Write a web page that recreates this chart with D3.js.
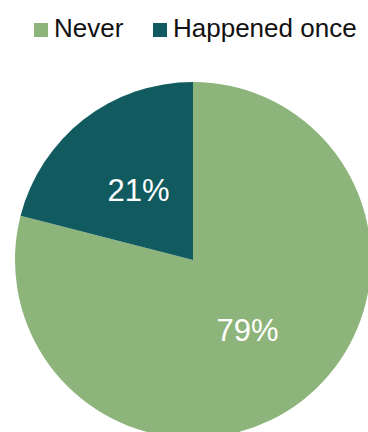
<!DOCTYPE html>
<html>
<head>
<meta charset="utf-8">
<script src="https://cdn.jsdelivr.net/npm/d3@7"></script>
<style>
  body { margin: 0; background: #fff; }
  svg { display: block; font-family: "Liberation Sans", Arial, sans-serif; }
</style>
</head>
<body>
<div id="container"></div>
<script>
var WIDTH = 368,
    HEIGHT = 432;

var categories = ['Never', 'Happened once'],
    values = [79, 21],
    colors = ['#8db47b', '#115b60'];

var svg = d3.select('#container').append('svg')
    .attr('width', WIDTH)
    .attr('height', HEIGHT);

var cx = 193, cy = 260, radius = 178;

var color = d3.scaleOrdinal().domain(categories).range(colors);

var pie = d3.pie().sort(null).value(function(d) { return d.value; });
var data = categories.map(function(c, i) { return {name: c, value: values[i]}; });

var arc = d3.arc().innerRadius(0).outerRadius(radius),
    labelArc = d3.arc().innerRadius(radius * 0.5).outerRadius(radius * 0.5);

var g = svg.append('g').attr('transform', 'translate(' + cx + ',' + cy + ')');

var slices = g.selectAll('g.slice')
    .data(pie(data))
    .enter()
    .append('g')
      .attr('class', 'slice');

slices.append('path')
    .attr('d', arc)
    .style('fill', function(d) { return color(d.data.name); });

slices.append('text')
    .attr('transform', function(d) { return 'translate(' + labelArc.centroid(d) + ')'; })
    .attr('text-anchor', 'middle')
    .attr('dy', '0.35em')
    .style('fill', '#fff')
    .style('font-size', '31px')
    .text(function(d) { return d.data.value + '%'; });

// Legend
var legend = svg.append('g').attr('class', 'legend');
var legendX = [34, 153];
var items = legend.selectAll('g')
    .data(categories)
    .enter()
    .append('g')
      .attr('transform', function(d, i) { return 'translate(' + legendX[i] + ',23)'; });

items.append('rect')
    .attr('width', 14)
    .attr('height', 14)
    .style('fill', function(d) { return color(d); });

items.append('text')
    .attr('x', 20)
    .attr('y', 14)
    .style('font-size', '26px')
    .style('fill', '#111')
    .text(function(d) { return d; });
</script>
</body>
</html>
